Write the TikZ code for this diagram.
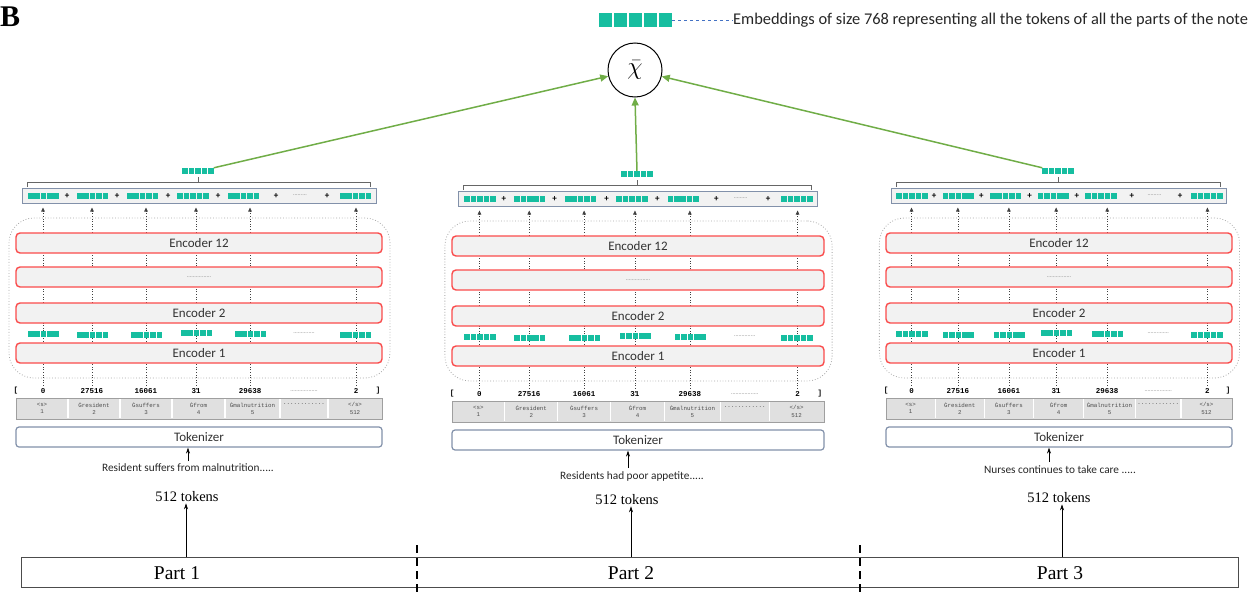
\documentclass[tikz,border=0pt]{standalone}
\usepackage{fontspec}
\setmainfont{Liberation Serif}
\newfontfamily\carl{Carlito}
\newfontfamily\monof{Liberation Mono}
\usetikzlibrary{arrows.meta,fit}
\definecolor{embc}{RGB}{22,190,160}
\definecolor{encred}{RGB}{250,75,75}
\definecolor{encfill}{RGB}{242,242,242}
\definecolor{boxedge}{RGB}{130,145,170}
\definecolor{arrgreen}{RGB}{112,173,71}
\definecolor{legblue}{RGB}{68,114,196}
\definecolor{tblfill}{RGB}{224,224,224}

\newcommand\embrow[3]{{\color{embc}\rule{#1}{#2}\hspace{#3}\rule{#1}{#2}\hspace{#3}\rule{#1}{#2}\hspace{#3}\rule{#1}{#2}\hspace{#3}\rule{#1}{#2}}}
\newcommand\emb{\embrow{5.6pt}{6pt}{0.8pt}}

\tikzset{
  container/.style={draw=gray!70, dotted, line width=0.8pt, rounded corners=25pt, inner sep=0pt},
  enc/.style={draw=encred, fill=encfill, line width=1.4pt, rounded corners=4pt, inner sep=0pt},
  boxtext/.style={inner sep=0pt, font=\carl\fontsize{13}{13}\selectfont, text=black!80},
  ebox/.style={draw=boxedge, fill=encfill, line width=1pt, inner sep=0pt},
  tblbox/.style={draw=gray!75, fill=tblfill, line width=1pt, inner sep=0pt},
  tokbox/.style={draw=boxedge, fill=white, line width=1.2pt, rounded corners=3pt, inner sep=0pt},
  embn/.style={inner sep=0pt},
  plusn/.style={inner sep=0pt, font=\carl\bfseries\fontsize{9}{9}\selectfont},
  dotsn/.style={inner sep=0pt, text=gray, font=\carl\fontsize{6}{6}\selectfont},
  tid/.style={inner sep=0pt, font=\monof\bfseries\fontsize{7.5}{7.5}\selectfont},
  cell/.style={inner sep=0pt, align=center, text=gray!60!black, font=\monof\fontsize{5.8}{7.5}\selectfont},
  dotarr/.style={draw=black!75, dotted, line width=0.6pt, -{Triangle[length=4pt,width=3.5pt]}, shorten >=4pt},
  bracketline/.style={draw=gray!80!black, line width=0.9pt},
  garrow/.style={draw=arrgreen, line width=1.5pt, -{Triangle[length=8pt,width=7pt]}},
  sent/.style={inner sep=1pt, font=\carl\fontsize{11.3}{11.3}\selectfont, text=black!85},
  tokens/.style={inner sep=1pt, font=\fontsize{14.5}{14.5}\selectfont},
  thinarr/.style={draw=black, line width=0.6pt, -{Stealth[length=6pt,width=4pt]}},
  partn/.style={inner sep=0pt, font=\fontsize{19.5}{19.5}\selectfont},
  divider/.style={draw=black, line width=1.5pt, dash pattern=on 8pt off 5pt},
  barbox/.style={draw=black!70, fill=white, line width=0.8pt, inner sep=0pt},
}

\newcommand\partcol[4]{%
\pgfmathsetlengthmacro\sxl{#3/366*1pt}%
\begin{scope}[shift={(#2,#4)}, x=\sxl]
\node[container, fit={(-7,218)(374,378)}] (#1cont) {};
\foreach \xx/\vv/\nn in {27/0/1,76/27516/2,130/16061/3,180/31/4,234/29638/5,340/2/6}
  \node[tid] (#1id\nn) at (\xx,391) {\vv};
\node[tid] (#1lb) at (0,391) {[};
\node[tid] (#1rb) at (362,391) {]};
\node[dotsn] (#1iddots) at (288,391) {..................};
\node[ebox, fit={(6,188)(360,203)}] (#1ebox) {};
\foreach \xx/\nn in {27.5/1,76.5/2,126.5/3,177/4,227.5/5,339.5/6}
  \node[embn] (#1u\nn) at (\xx,195.5) {\emb};
\node[dotsn] (#1udots) at (284,195.5) {.........};
\foreach \xx/\nn in {51/1,101/2,152/3,202/4,260/5,311/6}
  \node[plusn] (#1plus\nn) at (\xx,196.5) {+};
\draw[bracketline] (11,187) -- (11,182) -- (354,182) -- (354,187) (182,182) -- (182,177);
\node[embn] (#1top) at (182,171) {\emb};
\foreach \nn in {1,...,6} \draw[dotarr] (#1id\nn.north) -- (#1id\nn.north |- #1ebox.south);
\node[enc, fit={(0,233)(366,253)}] (#1e12) {};
\node[boxtext] (#1e12t) at (#1e12.center) {Encoder 12};
\node[enc, fit={(0,267)(366,287)}] (#1edots) {};
\node[dotsn] (#1edotst) at (#1edots.center) {................};
\node[enc, fit={(0,303)(366,323)}] (#1e2) {};
\node[boxtext] (#1e2t) at (#1e2.center) {Encoder 2};
\node[enc, fit={(0,343)(366,363)}] (#1e1) {};
\node[boxtext] (#1e1t) at (#1e1.center) {Encoder 1};
\foreach \xx/\yy/\nn in {27.5/334/1,76.5/335/2,130.5/335/3,180.5/333/4,234.5/334/5,339.5/335/6}
  \node[embn] (#1l\nn) at (\xx,\yy) {\emb};
\node[dotsn] (#1ldots) at (288,333) {..............};
\node[tblbox, fit={(0,398)(366,419)}] (#1tbl) {};
\foreach \xx in {52,104,156,209,264,312} \draw[white, line width=1.2pt] (\xx,399) -- (\xx,418);
\node[cell] (#1c1) at (26,408.5) {<s>\\1};
\node[cell] (#1c2) at (78,408.5) {Ġresident\\2};
\node[cell] (#1c3) at (130,408.5) {Ġsuffers\\3};
\node[cell] (#1c4) at (182.5,408.5) {Ġfrom\\4};
\node[cell] (#1c5) at (236.5,408.5) {Ġmalnutrition\\5};
\node[cell] (#1c6) at (288,404.5) {............};
\node[cell] (#1c7) at (339,408.5) {</s>\\512};
\node[tokbox, fit={(0,427)(366,447)}] (#1tok) {};
\node[boxtext] (#1tokt) at (#1tok.center) {Tokenizer};
\end{scope}}

\begin{document}
\begin{tikzpicture}[x=1pt,y=-1pt]
\useasboundingbox (0,0) rectangle (1254,597);
\node[anchor=west, inner sep=0pt, font=\bfseries\fontsize{30}{30}\selectfont] (lblB) at (0,17) {B};

% legend
\node[embn] (legemb) at (635.5,20) {\embrow{13.5pt}{14pt}{1.5pt}};
\node[anchor=west, inner sep=0pt, font=\carl\fontsize{16.4}{16.4}\selectfont, text=black!85] (legtxt) at (733,20) {Embeddings of size 768 representing all the tokens of all the parts of the note};
\draw[legblue, dashed, line width=0.8pt] (legemb.east) -- (legtxt.west);

% columns
\partcol{pa}{16}{366}{0}
\partcol{pb}{452}{372}{3}
\partcol{pc}{886}{346}{0}

% chi
\node[circle, draw, line width=1pt, minimum size=54pt, inner sep=0pt] (chi) at (635,70) {};
\node[inner sep=0pt, font=\fontsize{24}{24}\selectfont] (chit) at (chi.center) {$\bar{\chi}$};
\draw[garrow] (patop.north east) -- (chi);
\draw[garrow] (pbtop.north) -- (chi.south);
\draw[garrow] (pctop.north west) -- (chi);

% sentences
\node[sent] (s1) at (188,468) {Resident suffers from malnutrition.....};
\node[sent] (s2) at (632,476) {Residents had poor appetite.....};
\node[sent] (s3) at (1060,470) {Nurses continues to take care .....};
\coordinate (s1a) at (188,461);
\coordinate (s2a) at (628,468);
\coordinate (s3a) at (1049,462);
\draw[thinarr] (s1a) -- (s1a |- patok.south);
\draw[thinarr] (s2a) -- (s2a |- pbtok.south);
\draw[thinarr] (s3a) -- (s3a |- pctok.south);

% tokens
\node[tokens] (tok1) at (187,497) {512 tokens};
\node[tokens] (tok2) at (627,500) {512 tokens};
\node[tokens] (tok3) at (1059,498) {512 tokens};

% bar
\node[barbox, fit={(21,557)(1238,587)}] (bar) {};
\node[partn] (part1) at (177,573) {Part 1};
\node[partn] (part2) at (631,573) {Part 2};
\node[partn] (part3) at (1060,573) {Part 3};
\coordinate (b1) at (186,557);
\coordinate (b2) at (631,557);
\coordinate (b3) at (1062,557);
\draw[thinarr] (b1) -- (b1 |- tok1.south);
\draw[thinarr] (b2) -- (b2 |- tok2.south);
\draw[thinarr] (b3) -- (b3 |- tok3.south);
\coordinate (d1t) at (417,545);
\coordinate (d1b) at (417,597);
\coordinate (d2t) at (860,545);
\coordinate (d2b) at (860,597);
\draw[divider] (d1t) -- (d1b);
\draw[divider] (d2t) -- (d2b);
\end{tikzpicture}
\end{document}
